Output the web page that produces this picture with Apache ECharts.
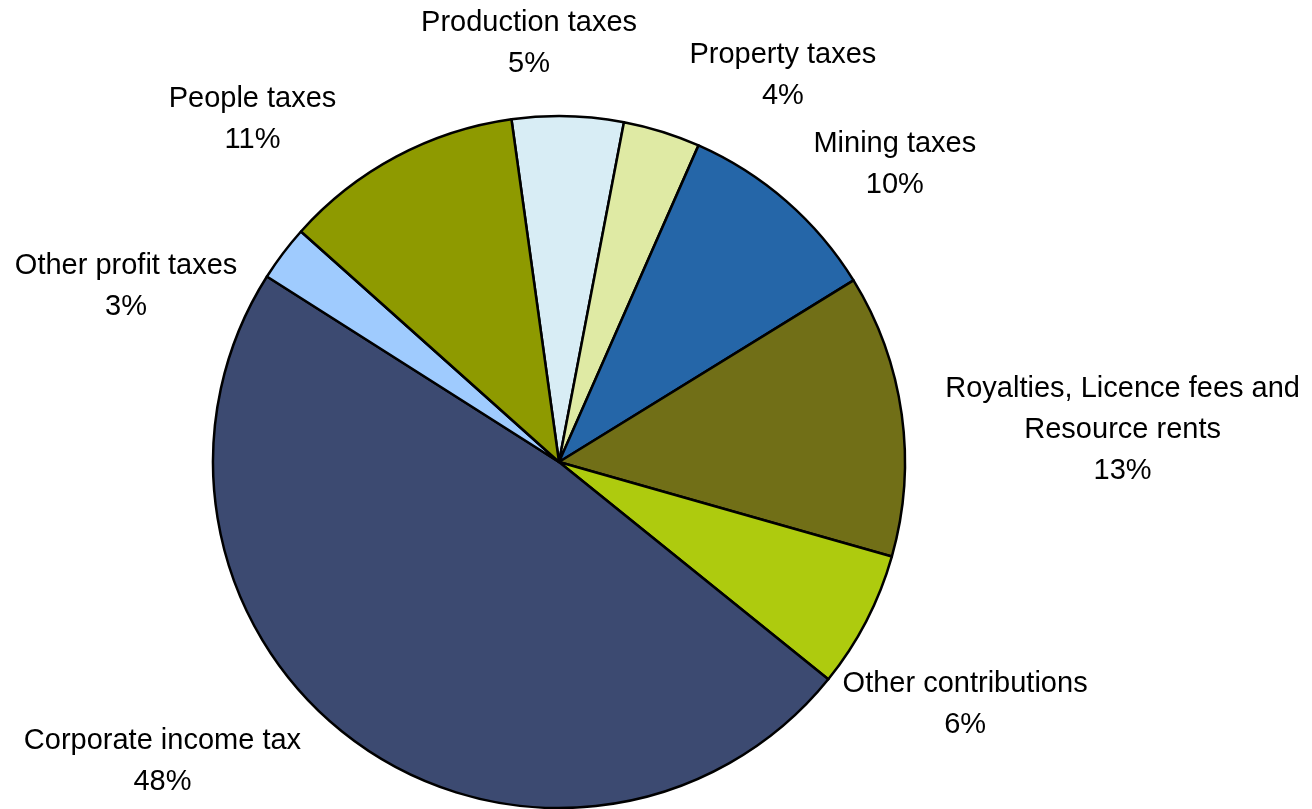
<!DOCTYPE html>
<html>
<head>
<meta charset="utf-8">
<style>
  html, body { margin: 0; padding: 0; background: #fff; }
  #chart { width: 1312px; height: 809px; }
</style>
<script src="https://cdn.jsdelivr.net/npm/echarts@6/dist/echarts.min.js"></script>
</head>
<body>
<div id="chart"></div>
<script>
// slices, clockwise from the top
const categories = [
  'Production taxes',
  'Property taxes',
  'Mining taxes',
  'Royalties, Licence fees and\nResource rents',
  'Other contributions',
  'Corporate income tax',
  'Other profit taxes',
  'People taxes'
]
const shares = [5.2, 3.6, 9.6, 13.2, 6.4, 48.2, 2.6, 11.2]
const colors = ['#d8edf5', '#dfeaa4', '#2566a8', '#716f17', '#aecb0e', '#3c4a71', '#9fcbfe', '#8e9a00']

// label nudges (px) from the point just outside each slice's middle
const labelDx = [-39, 118, 102, 211, 90, -189, -149, -139]
const labelDy = [-63, -47, -29, 17, 79, 10, 39, -28]

const cx = 559
const cy = 462
const radius = 346
const firstEdge = -7.9 // degrees clockwise from 12 o'clock

const total = shares.reduce((a, b) => a + b, 0)
const midAngles = []
let acc = 0
shares.forEach(v => {
  midAngles.push((firstEdge + 360 * (acc + v / 2) / total) * Math.PI / 180)
  acc += v
})

const chart = echarts.init(document.getElementById('chart'))
chart.setOption({
  animation: false,
  backgroundColor: '#fff',
  series: [{
    type: 'pie',
    center: [cx, cy],
    radius: [0, radius],
    startAngle: 90 - firstEdge,
    clockwise: true,
    avoidLabelOverlap: false,
    itemStyle: {
      borderColor: '#000',
      borderWidth: 2.5
    },
    emphasis: { disabled: true },
    label: {
      show: true,
      position: 'outside',
      color: '#000',
      fontFamily: '"Liberation Sans", Arial, sans-serif',
      fontSize: 29,
      lineHeight: 41,
      align: 'center',
      formatter: p => p.name + '\n' + Math.round(p.percent) + '%'
    },
    labelLine: { show: false },
    labelLayout(params) {
      const i = params.dataIndex
      const a = midAngles[i]
      const r = radius + 10
      return {
        x: cx + r * Math.sin(a) + labelDx[i],
        y: cy - r * Math.cos(a) + labelDy[i],
        align: 'center',
        verticalAlign: 'middle'
      }
    },
    data: categories.map((name, i) => ({
      name,
      value: shares[i],
      itemStyle: { color: colors[i] }
    }))
  }]
})
</script>
</body>
</html>
